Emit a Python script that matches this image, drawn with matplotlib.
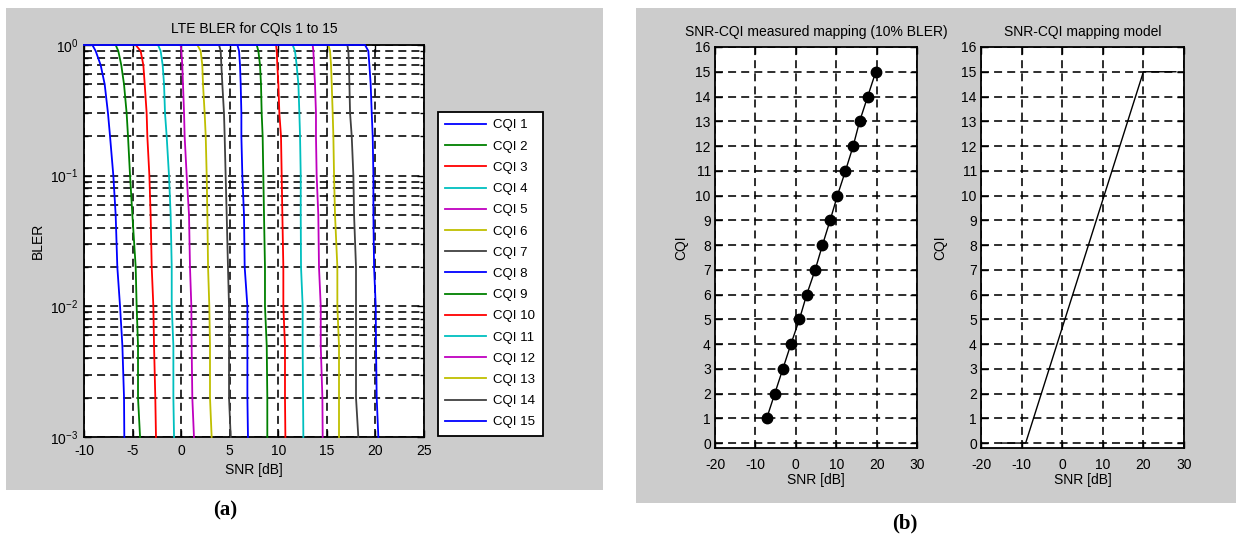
import numpy as np
import matplotlib
matplotlib.use("Agg")
import matplotlib.pyplot as plt
from matplotlib.patches import Rectangle

plt.rcParams['font.family'] = ['Liberation Sans', 'DejaVu Sans']
plt.rcParams['axes.unicode_minus'] = False

# BLER levels at which the curves were read
bler_levels = [1, 0.9, 0.7, 0.5, 0.3, 0.2, 0.1, 0.05, 0.02, 0.01, 0.005, 0.002, 0.001]

# SNR [dB] of each CQI curve at the above BLER levels
snr_cqi = [
    [-9.14, -8.80, -8.28, -7.87, -7.53, -7.32, -6.98, -6.74, -6.57, -6.29, -6.05, -5.88, -5.85],
    [-6.74, -6.47, -6.16, -5.88, -5.61, -5.47, -5.26, -5.02, -4.68, -4.58, -4.44, -4.44, -4.23],
    [-4.68, -4.17, -3.89, -3.75, -3.55, -3.48, -3.27, -3.14, -3.03, -2.86, -2.79, -2.66, -2.59],
    [-2.38, -2.11, -1.90, -1.76, -1.66, -1.49, -1.25, -1.08, -0.97, -0.97, -0.80, -0.80, -0.73],
    [-0.05, 0.02, 0.12, 0.19, 0.30, 0.36, 0.57, 0.81, 0.91, 1.05, 1.08, 1.15, 1.32],
    [1.67, 2.01, 2.18, 2.25, 2.42, 2.53, 2.63, 2.70, 2.77, 2.90, 2.97, 2.97, 3.14],
    [3.90, 4.07, 4.14, 4.24, 4.41, 4.48, 4.58, 4.69, 4.82, 4.93, 4.93, 4.93, 5.10],
    [5.79, 5.96, 6.06, 6.13, 6.20, 6.20, 6.30, 6.47, 6.54, 6.82, 6.82, 6.82, 6.88],
    [7.78, 7.95, 8.12, 8.22, 8.29, 8.39, 8.46, 8.53, 8.63, 8.63, 8.81, 8.87, 8.87],
    [9.77, 9.84, 9.90, 10.01, 10.11, 10.28, 10.35, 10.42, 10.52, 10.52, 10.69, 10.69, 10.73],
    [11.48, 11.72, 11.89, 12.07, 12.17, 12.24, 12.31, 12.31, 12.34, 12.51, 12.51, 12.55, 12.58],
    [13.54, 13.61, 13.68, 13.78, 13.88, 13.88, 13.95, 14.12, 14.19, 14.37, 14.37, 14.54, 14.57],
    [15.15, 15.33, 15.43, 15.50, 15.60, 15.67, 15.74, 15.84, 16.08, 16.08, 16.25, 16.25, 16.25],
    [17.11, 17.21, 17.28, 17.32, 17.39, 17.56, 17.73, 17.80, 18.00, 18.00, 18.00, 18.00, 18.24],
    [18.93, 19.27, 19.38, 19.51, 19.62, 19.72, 19.79, 19.79, 19.86, 20.03, 20.06, 20.13, 20.30],
]

# measured mapping at 10% BLER
cqi = np.arange(1, 16)
snr_meas = [-7.2, -5.2, -3.2, -1.2, 0.9, 2.7, 4.8, 6.6, 8.5, 10.3, 12.3, 14.2, 15.8, 17.8, 19.8]

# mapping model breakpoints
snr_model = [-15, -9, 20, 28]
cqi_model = [0, 0, 15, 15]

colors = [(0, 0, 1), (0, 0.5, 0), (1, 0, 0), (0, 0.75, 0.75),
          (0.75, 0, 0.75), (0.75, 0.75, 0), (0.25, 0.25, 0.25)]

W, H = 1236, 535
fig = plt.figure(figsize=(W / 100, H / 100), dpi=100)

def fx(px):
    return px / W

def fy(py):
    return 1 - py / H

# grey panels
for x0, x1, y0, y1 in [(6, 603, 8, 490), (636, 1236, 8, 503)]:
    fig.add_artist(Rectangle((fx(x0), fy(y1)), fx(x1 - x0), (y1 - y0) / H,
                             transform=fig.transFigure, facecolor='#cccccc',
                             edgecolor='none', zorder=-10))

grid_kw = dict(color='black', linestyle=(0, (5, 3.2)), linewidth=1.15)
fs = 10


def style_axes(ax):
    ax.set_facecolor('white')
    for s in ax.spines.values():
        s.set_linewidth(1.3)
    ax.tick_params(which='both', direction='in', top=True, right=True,
                   labelsize=fs, width=1.0)
    ax.tick_params(which='major', length=5)
    ax.tick_params(which='minor', length=3)


# (a) BLER curves
ax1 = fig.add_axes([fx(84), fy(437), fx(424 - 84), (437 - 45) / H])
for i, snr in enumerate(snr_cqi):
    ax1.semilogy([-10] + snr, [1] + bler_levels, color=colors[i % 7],
                 linewidth=1.3, label='CQI %d' % (i + 1), zorder=3,
                 clip_on=False)
ax1.set_xlim(-10, 25)
ax1.set_ylim(1e-3, 1)
ax1.set_xticks(np.arange(-10, 26, 5))
ax1.grid(True, which='major', **grid_kw)
ax1.grid(True, which='minor', axis='y', **grid_kw)
style_axes(ax1)
ax1.tick_params(axis='x', pad=5)
ax1.tick_params(axis='y', pad=4)
ax1.set_title('LTE BLER for CQIs 1 to 15', fontsize=fs, pad=9)
ax1.set_xlabel('SNR [dB]', fontsize=fs)
ax1.xaxis.set_label_coords(0.5, -0.066)
ax1.set_ylabel('BLER', fontsize=fs)
ax1.yaxis.set_label_coords(-0.115, 0.5)
leg = ax1.legend(loc='upper left', bbox_to_anchor=(fx(438), fy(112)),
                 bbox_transform=fig.transFigure, fontsize=9.5, frameon=True,
                 fancybox=False, edgecolor='black', handlelength=3.1,
                 labelspacing=0.68, borderaxespad=0, borderpad=0.55,
                 handletextpad=0.55)
leg.get_frame().set_linewidth(1.3)
leg.get_frame().set_facecolor('white')
leg.get_frame().set_alpha(1)

# (b) measured mapping
ax2 = fig.add_axes([fx(715), fy(448), fx(917 - 715), (448 - 47) / H])
ax2.plot(snr_meas, cqi, color='black', linewidth=1.0, marker='o',
         markersize=7.5, markerfacecolor='black')
ax2.set_xlim(-20, 30)
ax2.set_ylim(-0.2, 16)
ax2.set_xticks(np.arange(-20, 31, 10))
ax2.set_yticks(np.arange(0, 17, 1))
ax2.grid(True, **grid_kw)
style_axes(ax2)
ax2.tick_params(axis='x', pad=7)
ax2.tick_params(axis='y', pad=3)
ax2.set_title('SNR-CQI measured mapping (10% BLER)', fontsize=fs, pad=8)
ax2.set_xlabel('SNR [dB]', fontsize=fs)
ax2.xaxis.set_label_coords(0.5, -0.062)
ax2.set_ylabel('CQI', fontsize=fs)
ax2.yaxis.set_label_coords(-0.134, 0.5)

# (b) mapping model
ax3 = fig.add_axes([fx(981), fy(448), fx(1184 - 981), (448 - 47) / H])
ax3.plot(snr_model, cqi_model, color='black', linewidth=1.0)
ax3.set_xlim(-20, 30)
ax3.set_ylim(-0.2, 16)
ax3.set_xticks(np.arange(-20, 31, 10))
ax3.set_yticks(np.arange(0, 17, 1))
ax3.grid(True, **grid_kw)
style_axes(ax3)
ax3.tick_params(axis='x', pad=7)
ax3.tick_params(axis='y', pad=3)
ax3.set_title('SNR-CQI mapping model', fontsize=fs, pad=8)
ax3.set_xlabel('SNR [dB]', fontsize=fs)
ax3.xaxis.set_label_coords(0.5, -0.062)
ax3.set_ylabel('CQI', fontsize=fs)
ax3.yaxis.set_label_coords(-0.167, 0.5)

fig.text(fx(225), fy(510), '(a)', ha='center', va='center', fontsize=15,
         fontweight='bold', family='Liberation Serif')
fig.text(fx(905), fy(523), '(b)', ha='center', va='center', fontsize=15,
         fontweight='bold', family='Liberation Serif')

fig.savefig('out.png', dpi=100)
